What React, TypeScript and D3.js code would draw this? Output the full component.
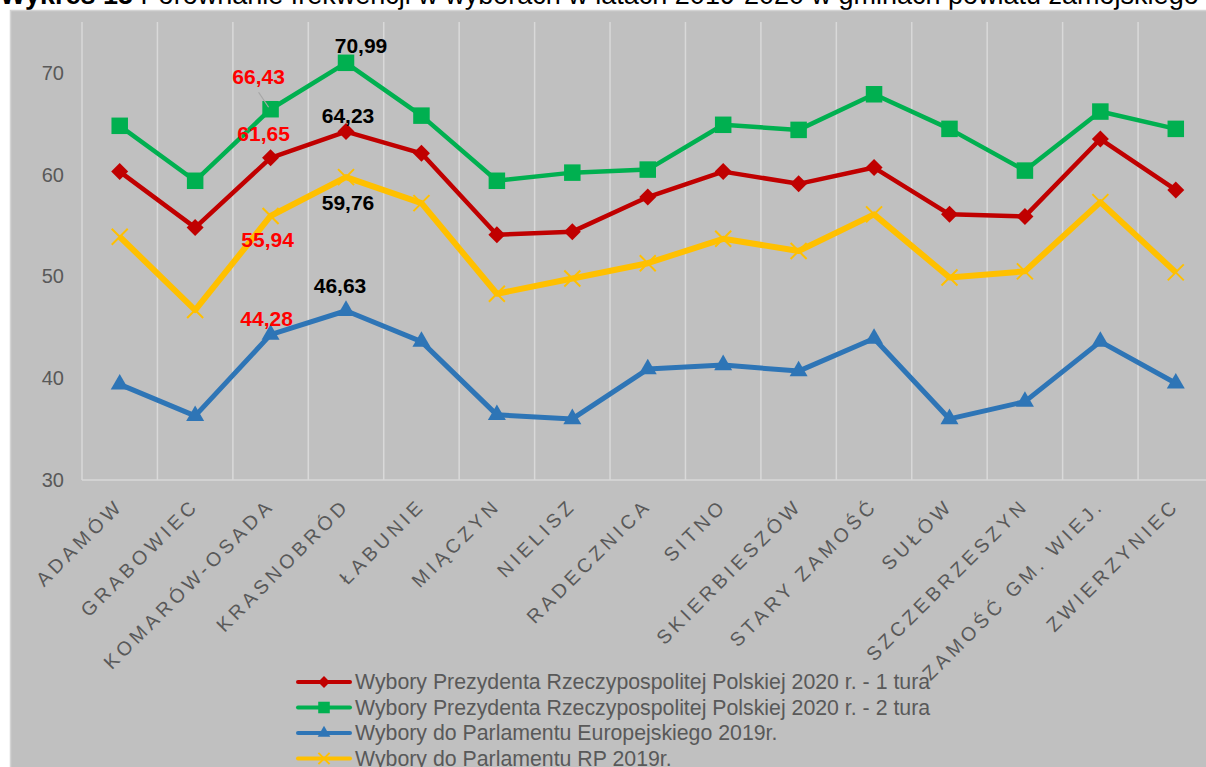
import React from 'react';
import * as d3 from 'd3';

const gminy = [
  'ADAMÓW', 'GRABOWIEC', 'KOMARÓW-OSADA', 'KRASNOBRÓD', 'ŁABUNIE', 'MIĄCZYN', 'NIELISZ',
  'RADECZNICA', 'SITNO', 'SKIERBIESZÓW', 'STARY ZAMOŚĆ', 'SUŁÓW', 'SZCZEBRZESZYN',
  'ZAMOŚĆ GM. WIEJ.', 'ZWIERZYNIEC',
];

const prezydent1 = [60.3, 54.8, 61.65, 64.23, 62.1, 54.1, 54.4, 57.8, 60.3, 59.1, 60.7, 56.1, 55.9, 63.5, 58.5];
const prezydent2 = [64.8, 59.4, 66.43, 70.99, 65.8, 59.4, 60.2, 60.5, 64.9, 64.4, 67.9, 64.5, 60.4, 66.2, 64.5];
const europarl = [39.4, 36.3, 44.28, 46.63, 43.6, 36.4, 36.0, 40.9, 41.3, 40.7, 43.9, 36.0, 37.7, 43.6, 39.5];
const sejm = [53.9, 46.7, 55.94, 59.76, 57.2, 48.3, 49.8, 51.3, 53.7, 52.5, 56.1, 49.9, 50.5, 57.3, 50.4];

const yTicks = [30, 40, 50, 60, 70];

const series = [
  { name: 'Wybory Prezydenta Rzeczypospolitej Polskiej 2020 r. - 1 tura', values: prezydent1, color: '#c00000', marker: 'diamond', width: 4.5 },
  { name: 'Wybory Prezydenta Rzeczypospolitej Polskiej 2020 r. - 2 tura', values: prezydent2, color: '#00b050', marker: 'square', width: 4.5 },
  { name: 'Wybory do Parlamentu Europejskiego 2019r.', values: europarl, color: '#2e75b6', marker: 'triangle', width: 5 },
  { name: 'Wybory do Parlamentu RP 2019r.', values: sejm, color: '#ffc000', marker: 'x', width: 6 },
];

// data labels shown in the chart: series index, category index, colour, offset from the point
const labels = [
  { s: 1, c: 2, color: '#ff0000', dx: -12, dy: -25, leader: true },
  { s: 0, c: 2, color: '#ff0000', dx: -7, dy: -17 },
  { s: 3, c: 2, color: '#ff0000', dx: -3, dy: 31 },
  { s: 2, c: 2, color: '#ff0000', dx: -4, dy: -9 },
  { s: 1, c: 3, color: '#000000', dx: 15, dy: -10 },
  { s: 0, c: 3, color: '#000000', dx: 2, dy: -9 },
  { s: 3, c: 3, color: '#000000', dx: 2, dy: 33 },
  { s: 2, c: 3, color: '#000000', dx: -6, dy: -18 },
];

const FONT = '"Liberation Sans", Arial, sans-serif';
const W = 1206;
const H = 767;

function Marker({ type, x, y, color, k = 1 }: { type: string; x: number; y: number; color: string; k?: number }) {
  if (type === 'diamond') {
    const r = 8.5 * k;
    return <path d={`M${x},${y - r}L${x + r},${y}L${x},${y + r}L${x - r},${y}Z`} fill={color} />;
  }
  if (type === 'square') {
    const s = 16.5 * k;
    return <rect x={x - s / 2} y={y - s / 2} width={s} height={s} fill={color} />;
  }
  if (type === 'triangle') {
    const s = 18 * k;
    return <path d={`M${x},${y - s * 0.577}L${x + s / 2},${y + s * 0.289}L${x - s / 2},${y + s * 0.289}Z`} fill={color} />;
  }
  const r = 8 * k;
  return (
    <path d={`M${x - r},${y - r}L${x + r},${y + r}M${x - r},${y + r}L${x + r},${y - r}`} stroke={color} strokeWidth={2} fill="none" />
  );
}

export default function App() {
  const x = d3.scaleBand<string>().domain(gminy).range([82, 1213.5]);
  const y = d3.scaleLinear().domain([30, 75]).range([480, 22]);
  const cx = (g: string) => (x(g) as number) + x.bandwidth() / 2;

  const line = d3
    .line<number>()
    .x((_, i) => cx(gminy[i]))
    .y((d) => y(d));

  const fmt = (v: number) => v.toFixed(2).replace('.', ',');

  return (
    <svg width={W} height={H} style={{ position: 'absolute', left: 0, top: 0, background: '#fff' }} fontFamily={FONT}>
      {/* title, cut at the top like in the source */}
      <text x={0} y={4} fontSize={27} fill="#000">
        <tspan fontWeight="bold">Wykres 15 </tspan>
        <tspan>Porównanie frekwencji w wyborach w latach 2019-2020 w gminach powiatu zamojskiego</tspan>
      </text>

      <rect x={10.5} y={10.5} width={W} height={H} fill="#c0c0c0" stroke="#d4d4d4" strokeWidth={1.5} />

      {/* vertical grid lines at category borders */}
      {gminy.map((g) => (
        <line key={g} x1={x(g)} x2={x(g)} y1={22} y2={480} stroke="#d9d9d9" strokeWidth={1.5} />
      ))}
      <line x1={82} x2={1213.5} y1={480} y2={480} stroke="#d9d9d9" strokeWidth={1.5} />

      {/* y axis */}
      {yTicks.map((t) => (
        <text key={t} x={64} y={y(t)} dy="0.35em" textAnchor="end" fontSize={20} fill="#595959">
          {t}
        </text>
      ))}

      {/* x axis labels */}
      {gminy.map((g) => (
        <text
          key={g}
          transform={`translate(${cx(g)},502) rotate(-45)`}
          dy="0.35em"
          textAnchor="end"
          fontSize={19.5}
          letterSpacing={4}
          fill="#595959"
        >
          {g}
        </text>
      ))}

      {/* series */}
      {series.map((s) => (
        <g key={s.name}>
          <path d={line(s.values) || ''} fill="none" stroke={s.color} strokeWidth={s.width} strokeLinejoin="round" />
          {s.values.map((v, i) => (
            <Marker key={i} type={s.marker} x={cx(gminy[i])} y={y(v)} color={s.color} />
          ))}
        </g>
      ))}

      {/* data labels */}
      {labels.map((l, i) => {
        const px = cx(gminy[l.c]);
        const py = y(series[l.s].values[l.c]);
        return (
          <g key={i}>
            {l.leader && (
              <line x1={px + l.dx} y1={py + l.dy + 8} x2={px - 2} y2={py - 2} stroke="#a6a6a6" strokeWidth={1.2} />
            )}
            <text x={px + l.dx} y={py + l.dy} textAnchor="middle" fontSize={21} fontWeight="bold" fill={l.color}>
              {fmt(series[l.s].values[l.c])}
            </text>
          </g>
        );
      })}

      {/* legend */}
      {series.map((s, i) => {
        const ly = 682 + i * 25.5;
        return (
          <g key={s.name}>
            <line x1={298} x2={350} y1={ly} y2={ly} stroke={s.color} strokeWidth={4} strokeLinecap="round" />
            <Marker type={s.marker} x={324} y={ly} color={s.color} k={0.7} />
            <text x={355} y={ly} dy="0.35em" fontSize={21.3} fill="#595959">
              {s.name}
            </text>
          </g>
        );
      })}
    </svg>
  );
}
